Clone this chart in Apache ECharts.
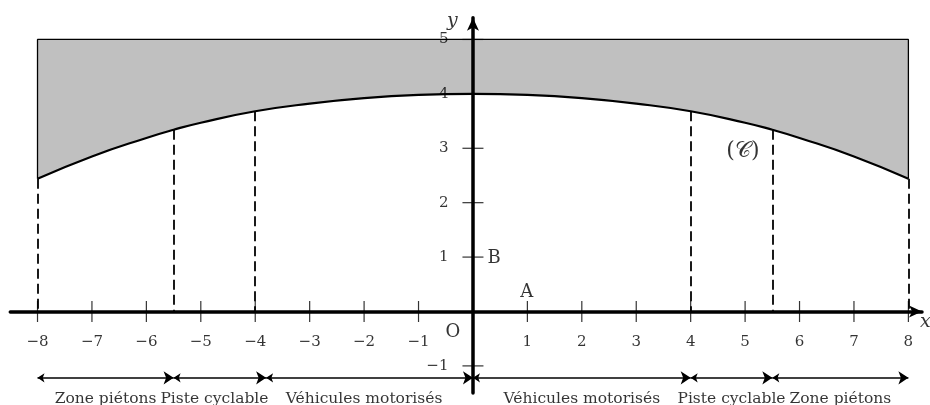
<!DOCTYPE html>
<html>
<head>
<meta charset="utf-8">
<title>Route</title>
<script src="https://cdn.jsdelivr.net/npm/echarts@6/dist/echarts.min.js"></script>
<style>
  html, body { margin: 0; padding: 0; background: #fff; }
  #chart { width: 930px; height: 405px; }
</style>
</head>
<body>
<div id="chart"></div>
<script>
// courbe (C)
const curveX = [-8, -7, -6, -5.5, -5, -4, -3, -2, -1, 0, 1, 2, 3, 4, 5, 5.5, 6, 7, 8]
const curveY = [2.44, 2.85, 3.19, 3.34, 3.47, 3.68, 3.82, 3.92, 3.98, 4, 3.98, 3.92, 3.82, 3.68, 3.47, 3.34, 3.19, 2.85, 2.44]
const roofY = 5

// pointillés verticaux
const dashX = [-8, -5.5, -4, 4, 5.5, 8]

// graduations
const xTicks = [-8, -7, -6, -5, -4, -3, -2, -1, 1, 2, 3, 4, 5, 6, 7, 8]
const yTicks = [-1, 1, 2, 3, 4, 5]

// zones sous l'axe
const zoneBounds = [-8, -5.5, -3.8, 0, 4, 5.5, 8]
const zoneNames = ['Zone piétons', 'Piste cyclable', 'Véhicules motorisés', 'Véhicules motorisés', 'Piste cyclable', 'Zone piétons']
const zoneCenters = [-6.75, -4.75, -2, 2, 4.75, 6.75]
const zoneY = -1.22

// textes
const notes = [
    { text: 'O', x: -0.37, y: -0.38 },
    { text: 'A', x: 0.99, y: 0.36 },
    { text: 'B', x: 0.39, y: 0.97 }
]
const curveName = { text: '(𝒞)', x: 4.96, y: 2.94 }
const axisNames = [
    { text: 'x', x: 8.31, y: -0.19 },
    { text: 'y', x: -0.38, y: 5.34 }
]

const FONT = 'DejaVu Serif'
const fmt = v => (v < 0 ? '\u2212' + (-v) : String(v))

const curve = curveX.map((x, i) => [x, curveY[i]])
const yAt = x => curveY[curveX.indexOf(x)]

const axisBase = {
    type: 'value',
    z: 5,
    splitLine: { show: false },
    axisTick: { show: false },
    axisLabel: { show: false },
    axisLine: {
        onZero: true,
        lineStyle: { color: '#000', width: 3.5 },
        symbol: ['none', 'arrow'],
        symbolSize: [9, 13]
    }
}

const textLabel = (extra) => Object.assign({
    show: true,
    formatter: '{b}',
    color: '#000',
    fontFamily: FONT,
    fontSize: 15
}, extra)

const chart = echarts.init(document.getElementById('chart'))
chart.setOption({
    animation: false,
    backgroundColor: '#fff',
    grid: { left: 10.3, top: 17.7, width: 911.7, height: 375.4, outerBoundsMode: 'none', containLabel: false },
    xAxis: Object.assign({ min: -8.5, max: 8.25 }, axisBase),
    yAxis: Object.assign({ min: -1.5, max: 5.4 }, axisBase),
    series: [
        {
            // zone grise entre la courbe et y = 5
            type: 'line',
            data: curve,
            smooth: true,
            showSymbol: false,
            lineStyle: { color: '#000', width: 2.2 },
            areaStyle: { origin: roofY, color: '#c0c0c0', opacity: 1 },
            z: 1
        },
        {
            // bord du rectangle
            type: 'line',
            data: [[-8, yAt(-8)], [-8, roofY], [8, roofY], [8, yAt(8)]],
            showSymbol: false,
            lineStyle: { color: '#000', width: 1.3 },
            z: 2
        },
        {
            type: 'lines',
            coordinateSystem: 'cartesian2d',
            data: dashX.map(x => ({ coords: [[x, yAt(x)], [x, 0]] })),
            lineStyle: { color: '#000', width: 1.8, type: [10, 5], opacity: 1 },
            z: 2
        },
        {
            // flèches des zones
            type: 'lines',
            coordinateSystem: 'cartesian2d',
            data: zoneNames.map((n, i) => ({ coords: [[zoneBounds[i], zoneY], [zoneBounds[i + 1], zoneY]] })),
            symbol: ['arrow', 'arrow'],
            symbolSize: [7, 10],
            lineStyle: { color: '#000', width: 1.5, opacity: 1 },
            z: 3
        },
        {
            type: 'scatter',
            clip: false,
            data: zoneNames.map((n, i) => ({ value: [zoneCenters[i], zoneY], name: n })),
            symbolSize: 0,
            label: textLabel({ position: 'bottom', distance: 13, fontSize: 15.5 })
        },
        {
            // graduations de l'axe des abscisses
            type: 'scatter',
            clip: false,
            data: xTicks.map(x => ({ value: [x, 0], name: fmt(x) })),
            symbol: 'rect',
            symbolSize: [1.2, 21],
            itemStyle: { color: '#000' },
            label: textLabel({ position: 'bottom', distance: 13 }),
            z: 6
        },
        {
            type: 'scatter',
            clip: false,
            data: yTicks.map(y => ({ value: [0, y], name: fmt(y) })),
            symbol: 'rect',
            symbolSize: [21, 1.2],
            itemStyle: { color: '#000' },
            label: textLabel({ position: 'left', distance: 14 }),
            z: 6
        },
        {
            type: 'scatter',
            clip: false,
            data: notes.map(p => ({ value: [p.x, p.y], name: p.text })),
            symbolSize: 0,
            label: textLabel({ position: 'inside', fontSize: 18 }),
            z: 7
        },
        {
            type: 'scatter',
            clip: false,
            data: [{ value: [curveName.x, curveName.y], name: curveName.text }],
            symbolSize: 0,
            label: textLabel({ position: 'inside', fontSize: 22 }),
            z: 7
        },
        {
            type: 'scatter',
            clip: false,
            data: axisNames.map(p => ({ value: [p.x, p.y], name: p.text })),
            symbolSize: 0,
            label: textLabel({ position: 'inside', fontStyle: 'italic', fontSize: 19 }),
            z: 7
        }
    ]
})
</script>
</body>
</html>
